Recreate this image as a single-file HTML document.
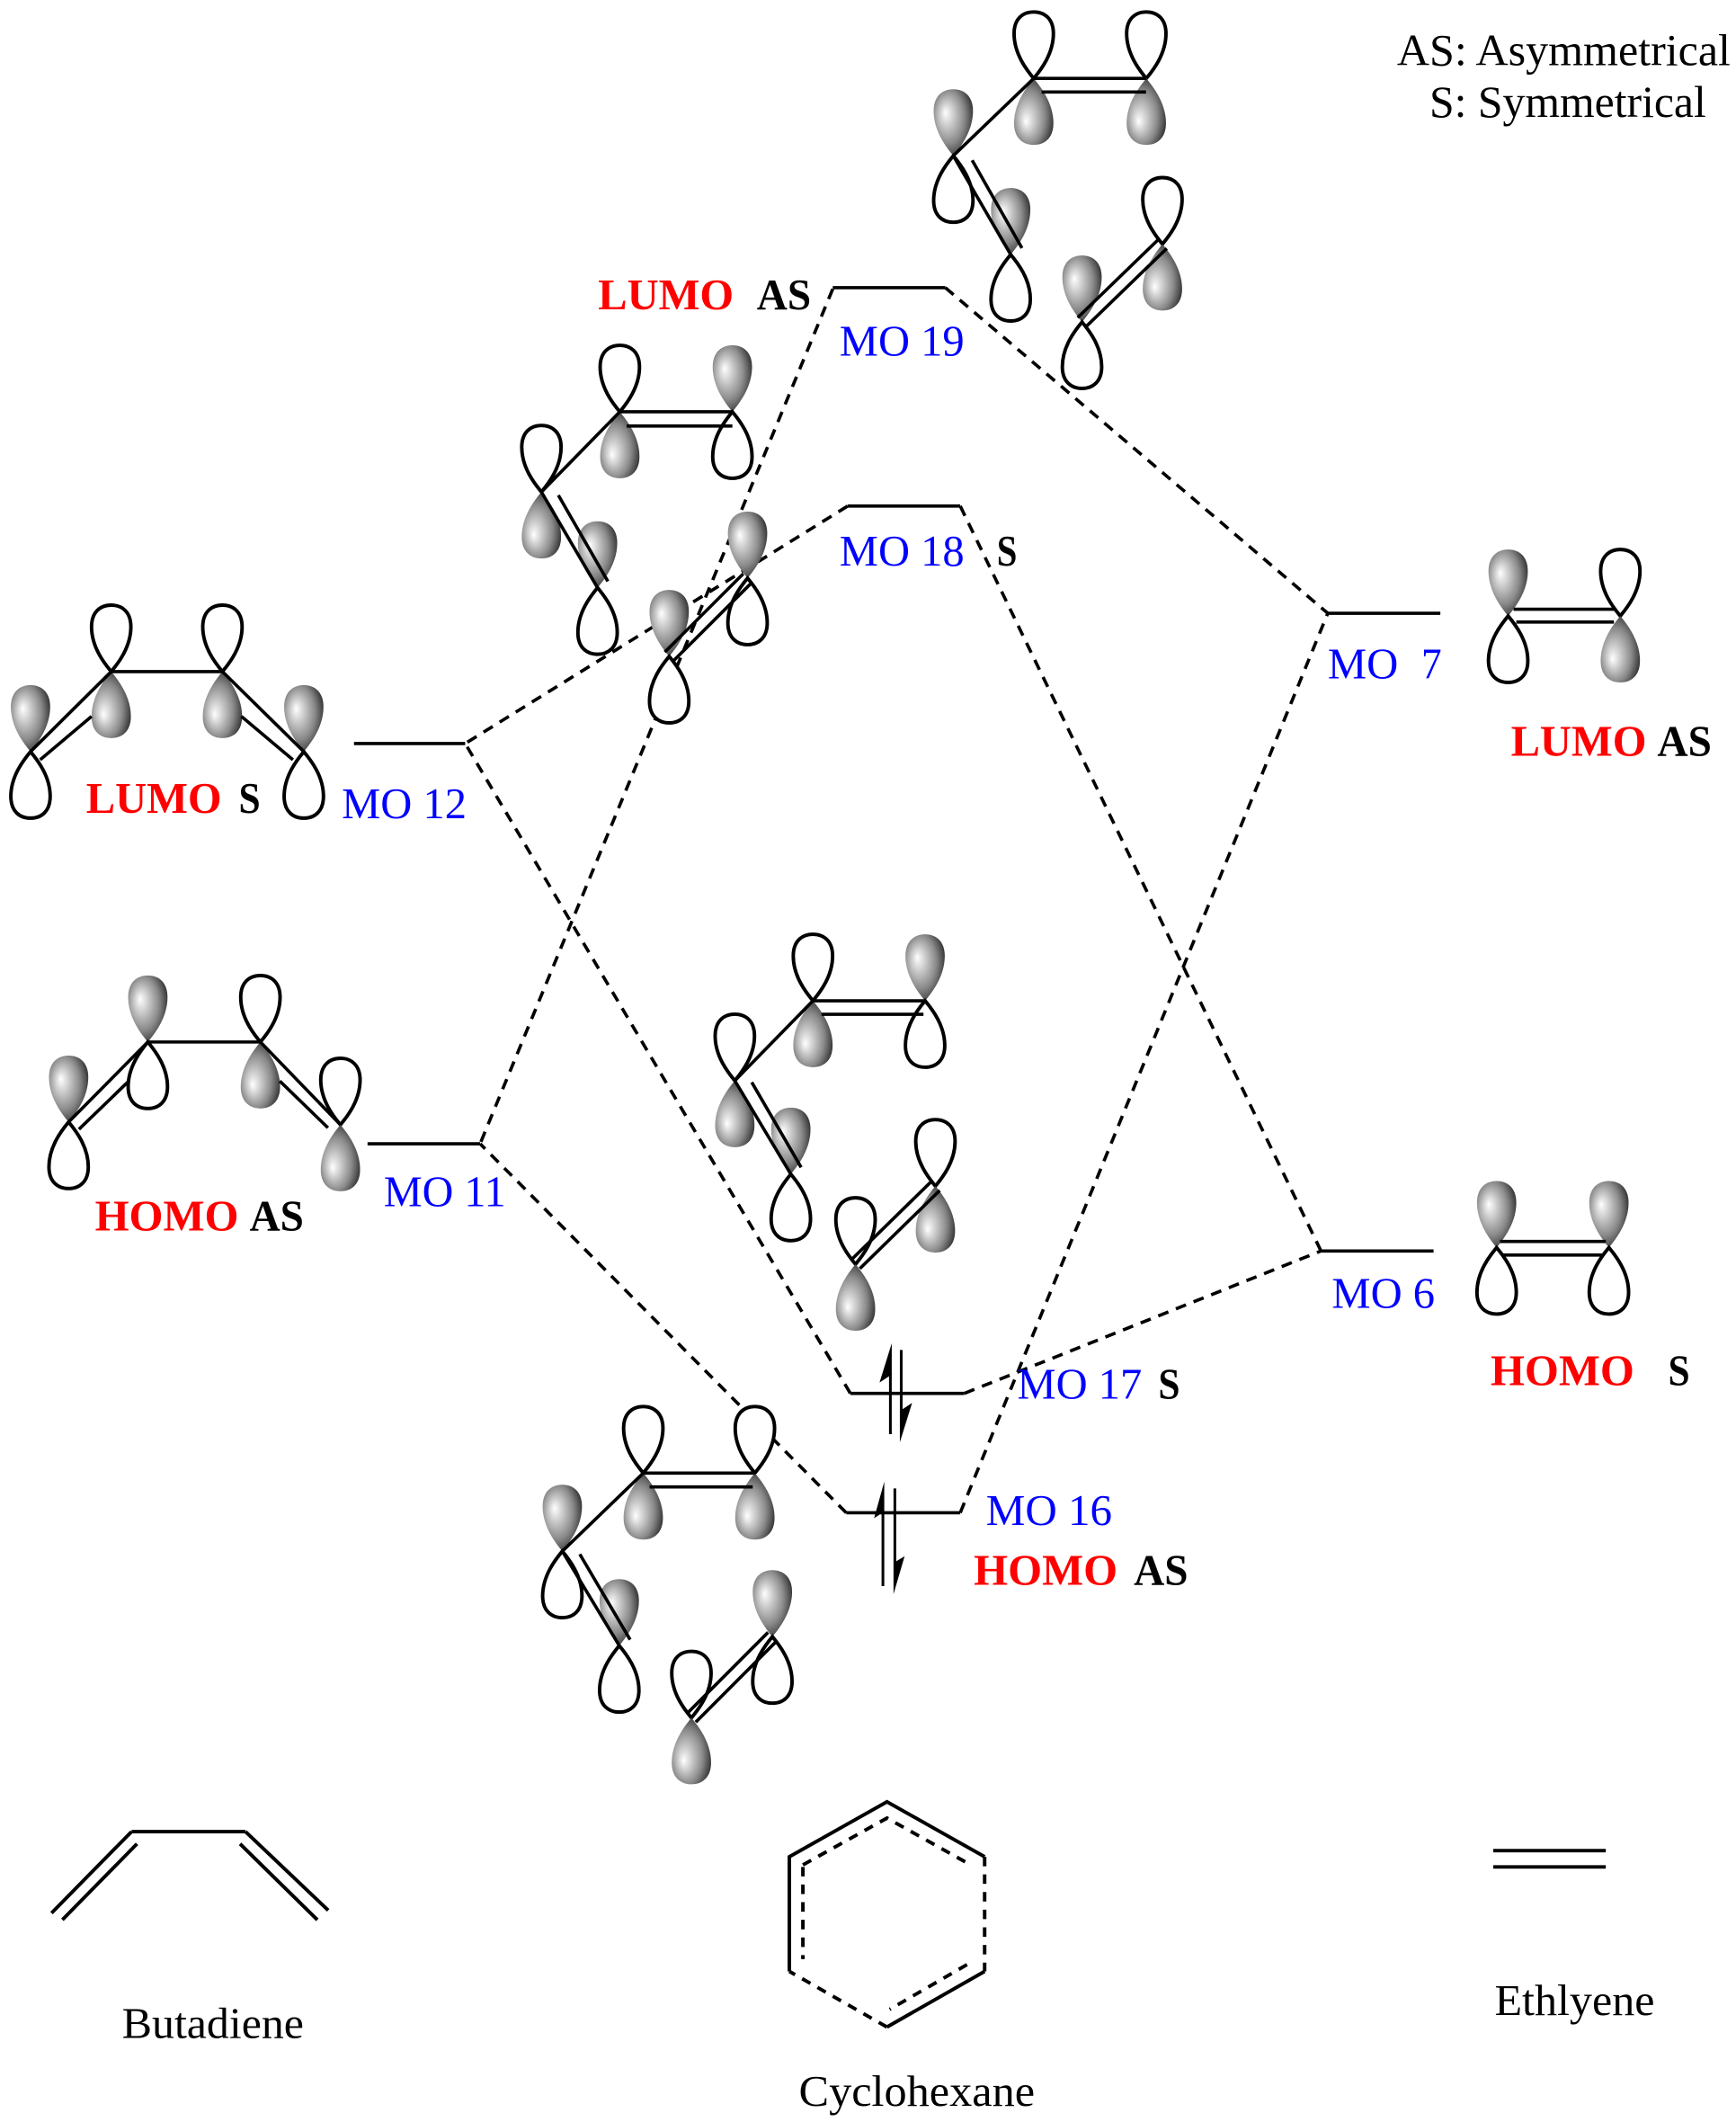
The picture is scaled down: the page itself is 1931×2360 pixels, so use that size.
<!DOCTYPE html>
<html>
<head>
<meta charset="utf-8">
<style>
html,body{margin:0;padding:0;background:#fff;}
svg{display:block;}
text{font-family:"Liberation Serif","DejaVu Serif",serif;}
.b{font-weight:bold;}
.red{fill:#ff0000;}
.blue{fill:#0000ff;}
.blk{fill:#000;}
</style>
</head>
<body>
<svg width="1931" height="2360" viewBox="0 0 1280 1564" preserveAspectRatio="none" xmlns="http://www.w3.org/2000/svg" xmlns:xlink="http://www.w3.org/1999/xlink">
<defs>
<radialGradient id="sh" cx="0.42" cy="0.45" r="0.62" fx="0.3" fy="0.35">
<stop offset="0" stop-color="#ffffff"/>
<stop offset="0.25" stop-color="#d2d2d2"/>
<stop offset="0.65" stop-color="#8a8a8a"/>
<stop offset="1" stop-color="#303030"/>
</radialGradient>
<path id="lb" d="M0,0 C-5,-6 -14.5,-18 -14.5,-33 C-14.5,-44 -8,-49 0,-49 C8,-49 14.5,-44 14.5,-33 C14.5,-18 5,-6 0,0 Z"/>
</defs>

<!-- dashed correlation lines -->
<g stroke="#000" stroke-width="2.4" stroke-dasharray="8 6" fill="none">
<line x1="614" y1="213" x2="354" y2="843"/>
<line x1="697" y1="212" x2="979" y2="452"/>
<line x1="625" y1="373" x2="343" y2="548"/>
<line x1="708" y1="373" x2="974" y2="922"/>
<line x1="627" y1="1027" x2="343" y2="548"/>
<line x1="711" y1="1027" x2="974" y2="922"/>
<line x1="624" y1="1115" x2="354" y2="843"/>
<line x1="708" y1="1115" x2="979" y2="452"/>
</g>

<!-- energy levels -->
<g stroke="#000" stroke-width="2.4" fill="none">
<line x1="614" y1="212" x2="697" y2="212"/>
<line x1="625" y1="373" x2="708" y2="373"/>
<line x1="261" y1="548" x2="343" y2="548"/>
<line x1="271" y1="843" x2="354" y2="843"/>
<line x1="979" y1="452" x2="1062" y2="452"/>
<line x1="974" y1="922" x2="1057" y2="922"/>
<line x1="627" y1="1027" x2="711" y2="1027"/>
<line x1="624" y1="1115" x2="708" y2="1115"/>
</g>

<!-- G1 butadiene LUMO -->
<g>
<use xlink:href="#lb" transform="translate(22.5,554)" fill="url(#sh)"/>
<use xlink:href="#lb" transform="translate(22.5,554) scale(1,-1)" fill="#fff" stroke="#000" stroke-width="2.6"/>
<use xlink:href="#lb" transform="translate(82,495)" fill="#fff" stroke="#000" stroke-width="2.6"/>
<use xlink:href="#lb" transform="translate(82,495) scale(1,-1)" fill="url(#sh)"/>
<use xlink:href="#lb" transform="translate(164,495)" fill="#fff" stroke="#000" stroke-width="2.6"/>
<use xlink:href="#lb" transform="translate(164,495) scale(1,-1)" fill="url(#sh)"/>
<use xlink:href="#lb" transform="translate(224,554)" fill="url(#sh)"/>
<use xlink:href="#lb" transform="translate(224,554) scale(1,-1)" fill="#fff" stroke="#000" stroke-width="2.6"/>
<g stroke="#000" stroke-width="2.4">
<line x1="22.5" y1="554" x2="82" y2="495"/>
<line x1="29.6" y1="560" x2="67.5" y2="528"/>
<line x1="82" y1="495" x2="164" y2="495"/>
<line x1="164" y1="495" x2="224" y2="554"/>
<line x1="178" y1="528" x2="216" y2="560"/>
</g>
</g>

<!-- G2 butadiene HOMO -->
<g>
<use xlink:href="#lb" transform="translate(50.6,827)" fill="url(#sh)"/>
<use xlink:href="#lb" transform="translate(50.6,827) scale(1,-1)" fill="#fff" stroke="#000" stroke-width="2.6"/>
<use xlink:href="#lb" transform="translate(109,768)" fill="url(#sh)"/>
<use xlink:href="#lb" transform="translate(109,768) scale(1,-1)" fill="#fff" stroke="#000" stroke-width="2.6"/>
<use xlink:href="#lb" transform="translate(192,768)" fill="#fff" stroke="#000" stroke-width="2.6"/>
<use xlink:href="#lb" transform="translate(192,768) scale(1,-1)" fill="url(#sh)"/>
<use xlink:href="#lb" transform="translate(251,829)" fill="#fff" stroke="#000" stroke-width="2.6"/>
<use xlink:href="#lb" transform="translate(251,829) scale(1,-1)" fill="url(#sh)"/>
<g stroke="#000" stroke-width="2.4">
<line x1="50.6" y1="827" x2="109" y2="768"/>
<line x1="58.2" y1="832.3" x2="95" y2="796.8"/>
<line x1="109" y1="768" x2="192" y2="768"/>
<line x1="192" y1="768" x2="251" y2="829"/>
<line x1="206.3" y1="796.8" x2="241.8" y2="831.2"/>
</g>
</g>

<!-- G3 -->
<g>
<use xlink:href="#lb" transform="translate(457,303.5)" fill="#fff" stroke="#000" stroke-width="2.6"/>
<use xlink:href="#lb" transform="translate(457,303.5) scale(1,-1)" fill="url(#sh)"/>
<use xlink:href="#lb" transform="translate(540,303.5)" fill="url(#sh)"/>
<use xlink:href="#lb" transform="translate(540,303.5) scale(1,-1)" fill="#fff" stroke="#000" stroke-width="2.6"/>
<use xlink:href="#lb" transform="translate(399.2,362.6)" fill="#fff" stroke="#000" stroke-width="2.6"/>
<use xlink:href="#lb" transform="translate(399.2,362.6) scale(1,-1)" fill="url(#sh)"/>
<use xlink:href="#lb" transform="translate(440.6,433.2)" fill="url(#sh)"/>
<use xlink:href="#lb" transform="translate(440.6,433.2) scale(1,-1)" fill="#fff" stroke="#000" stroke-width="2.6"/>
<use xlink:href="#lb" transform="translate(493.4,483.8)" fill="url(#sh)"/>
<use xlink:href="#lb" transform="translate(493.4,483.8) scale(1,-1)" fill="#fff" stroke="#000" stroke-width="2.6"/>
<use xlink:href="#lb" transform="translate(551.2,426.1)" fill="url(#sh)"/>
<use xlink:href="#lb" transform="translate(551.2,426.1) scale(1,-1)" fill="#fff" stroke="#000" stroke-width="2.6"/>
<g stroke="#000" stroke-width="2.4">
<line x1="457" y1="303.5" x2="540" y2="303.5"/>
<line x1="462" y1="314" x2="540" y2="314"/>
<line x1="399.2" y1="362.6" x2="457" y2="303.5"/>
<line x1="399.2" y1="362.6" x2="440.6" y2="433.2"/>
<line x1="411.7" y1="365" x2="448.2" y2="428.5"/>
<line x1="490.2" y1="480.6" x2="548" y2="422.9"/>
<line x1="496.6" y1="487" x2="554.4" y2="429.3"/>
</g>
</g>

<!-- G4 -->
<g>
<use xlink:href="#lb" transform="translate(599.4,737.6)" fill="#fff" stroke="#000" stroke-width="2.6"/>
<use xlink:href="#lb" transform="translate(599.4,737.6) scale(1,-1)" fill="url(#sh)"/>
<use xlink:href="#lb" transform="translate(682.1,737.6)" fill="url(#sh)"/>
<use xlink:href="#lb" transform="translate(682.1,737.6) scale(1,-1)" fill="#fff" stroke="#000" stroke-width="2.6"/>
<use xlink:href="#lb" transform="translate(541.8,796.5)" fill="#fff" stroke="#000" stroke-width="2.6"/>
<use xlink:href="#lb" transform="translate(541.8,796.5) scale(1,-1)" fill="url(#sh)"/>
<use xlink:href="#lb" transform="translate(583.1,865.4)" fill="url(#sh)"/>
<use xlink:href="#lb" transform="translate(583.1,865.4) scale(1,-1)" fill="#fff" stroke="#000" stroke-width="2.6"/>
<use xlink:href="#lb" transform="translate(630.8,931.8)" fill="#fff" stroke="#000" stroke-width="2.6"/>
<use xlink:href="#lb" transform="translate(630.8,931.8) scale(1,-1)" fill="url(#sh)"/>
<use xlink:href="#lb" transform="translate(689.7,874.2)" fill="#fff" stroke="#000" stroke-width="2.6"/>
<use xlink:href="#lb" transform="translate(689.7,874.2) scale(1,-1)" fill="url(#sh)"/>
<g stroke="#000" stroke-width="2.4">
<line x1="599.4" y1="737.6" x2="682.1" y2="737.6"/>
<line x1="605.7" y1="747.6" x2="680.9" y2="747.6"/>
<line x1="541.8" y1="796.5" x2="599.4" y2="737.6"/>
<line x1="541.8" y1="796.5" x2="583.1" y2="865.4"/>
<line x1="554.3" y1="797.7" x2="590.7" y2="860.4"/>
<line x1="627.6" y1="928.6" x2="686.5" y2="871"/>
<line x1="634" y1="935" x2="692.9" y2="877.4"/>
</g>
</g>

<!-- G5 -->
<g>
<use xlink:href="#lb" transform="translate(474.3,1085.7)" fill="#fff" stroke="#000" stroke-width="2.6"/>
<use xlink:href="#lb" transform="translate(474.3,1085.7) scale(1,-1)" fill="url(#sh)"/>
<use xlink:href="#lb" transform="translate(556.6,1085.7)" fill="#fff" stroke="#000" stroke-width="2.6"/>
<use xlink:href="#lb" transform="translate(556.6,1085.7) scale(1,-1)" fill="url(#sh)"/>
<use xlink:href="#lb" transform="translate(414.6,1143.3)" fill="url(#sh)"/>
<use xlink:href="#lb" transform="translate(414.6,1143.3) scale(1,-1)" fill="#fff" stroke="#000" stroke-width="2.6"/>
<use xlink:href="#lb" transform="translate(456.6,1212.9)" fill="url(#sh)"/>
<use xlink:href="#lb" transform="translate(456.6,1212.9) scale(1,-1)" fill="#fff" stroke="#000" stroke-width="2.6"/>
<use xlink:href="#lb" transform="translate(509.8,1266.1)" fill="#fff" stroke="#000" stroke-width="2.6"/>
<use xlink:href="#lb" transform="translate(509.8,1266.1) scale(1,-1)" fill="url(#sh)"/>
<use xlink:href="#lb" transform="translate(569.5,1206.3)" fill="url(#sh)"/>
<use xlink:href="#lb" transform="translate(569.5,1206.3) scale(1,-1)" fill="#fff" stroke="#000" stroke-width="2.6"/>
<g stroke="#000" stroke-width="2.4">
<line x1="474.3" y1="1085.7" x2="556.6" y2="1085.7"/>
<line x1="479" y1="1095.9" x2="555" y2="1095.9"/>
<line x1="414.6" y1="1143.3" x2="474.3" y2="1085.7"/>
<line x1="414.6" y1="1143.3" x2="456.6" y2="1212.9"/>
<line x1="427.5" y1="1145.5" x2="464.6" y2="1208.5"/>
<line x1="506.6" y1="1262.9" x2="566.3" y2="1203.1"/>
<line x1="513" y1="1269.3" x2="572.7" y2="1209.5"/>
</g>
</g>

<!-- G6 -->
<g>
<use xlink:href="#lb" transform="translate(762.2,57.8)" fill="#fff" stroke="#000" stroke-width="2.6"/>
<use xlink:href="#lb" transform="translate(762.2,57.8) scale(1,-1)" fill="url(#sh)"/>
<use xlink:href="#lb" transform="translate(845.2,57.8)" fill="#fff" stroke="#000" stroke-width="2.6"/>
<use xlink:href="#lb" transform="translate(845.2,57.8) scale(1,-1)" fill="url(#sh)"/>
<use xlink:href="#lb" transform="translate(702.9,114.8)" fill="url(#sh)"/>
<use xlink:href="#lb" transform="translate(702.9,114.8) scale(1,-1)" fill="#fff" stroke="#000" stroke-width="2.6"/>
<use xlink:href="#lb" transform="translate(745.2,187.6)" fill="url(#sh)"/>
<use xlink:href="#lb" transform="translate(745.2,187.6) scale(1,-1)" fill="#fff" stroke="#000" stroke-width="2.6"/>
<use xlink:href="#lb" transform="translate(797.8,237.3)" fill="url(#sh)"/>
<use xlink:href="#lb" transform="translate(797.8,237.3) scale(1,-1)" fill="#fff" stroke="#000" stroke-width="2.6"/>
<use xlink:href="#lb" transform="translate(857.1,179.9)" fill="#fff" stroke="#000" stroke-width="2.6"/>
<use xlink:href="#lb" transform="translate(857.1,179.9) scale(1,-1)" fill="url(#sh)"/>
<g stroke="#000" stroke-width="2.4">
<line x1="762.2" y1="57.8" x2="845.2" y2="57.8"/>
<line x1="768" y1="67.8" x2="845" y2="67.8"/>
<line x1="702.9" y1="114.8" x2="762.2" y2="57.8"/>
<line x1="702.9" y1="114.8" x2="745.2" y2="187.6"/>
<line x1="716.8" y1="118.1" x2="753.5" y2="182.8"/>
<line x1="794.6" y1="234.1" x2="853.9" y2="176.7"/>
<line x1="801" y1="240.5" x2="860.3" y2="183.1"/>
</g>
</g>

<!-- Ethylene LUMO -->
<g>
<use xlink:href="#lb" transform="translate(1112,454)" fill="url(#sh)"/>
<use xlink:href="#lb" transform="translate(1112,454) scale(1,-1)" fill="#fff" stroke="#000" stroke-width="2.6"/>
<use xlink:href="#lb" transform="translate(1194.7,454)" fill="#fff" stroke="#000" stroke-width="2.6"/>
<use xlink:href="#lb" transform="translate(1194.7,454) scale(1,-1)" fill="url(#sh)"/>
<g stroke="#000" stroke-width="2.4">
<line x1="1116" y1="449" x2="1191" y2="449"/>
<line x1="1118" y1="458.5" x2="1190" y2="458.5"/>
</g>
</g>

<!-- Ethylene HOMO -->
<g>
<use xlink:href="#lb" transform="translate(1103.5,919.5)" fill="url(#sh)"/>
<use xlink:href="#lb" transform="translate(1103.5,919.5) scale(1,-1)" fill="#fff" stroke="#000" stroke-width="2.6"/>
<use xlink:href="#lb" transform="translate(1186.3,919.5)" fill="url(#sh)"/>
<use xlink:href="#lb" transform="translate(1186.3,919.5) scale(1,-1)" fill="#fff" stroke="#000" stroke-width="2.6"/>
<g stroke="#000" stroke-width="2.4">
<line x1="1106" y1="915" x2="1184" y2="915"/>
<line x1="1108" y1="925" x2="1182" y2="925"/>
</g>
</g>

<!-- electrons -->
<g stroke="#000" stroke-width="2">
<line x1="656.5" y1="1012" x2="656.5" y2="1057"/>
<line x1="664.5" y1="995" x2="664.5" y2="1041"/>
<line x1="651" y1="1113" x2="651" y2="1169"/>
<line x1="659.8" y1="1097" x2="659.8" y2="1152"/>
</g>
<g fill="#000">
<polygon points="657.5,990 648.5,1019 657.5,1013"/>
<polygon points="663.5,1063 672.5,1034 663.5,1040"/>
<polygon points="652,1092 644.5,1119 652,1114"/>
<polygon points="658.8,1175 667,1147 658.8,1152"/>
</g>

<!-- bottom structures -->
<g stroke="#000" stroke-width="2.6" fill="none">
<line x1="97" y1="1350" x2="181" y2="1350"/>
<line x1="97" y1="1350" x2="38" y2="1410"/>
<line x1="101" y1="1359" x2="46" y2="1415"/>
<line x1="181" y1="1350" x2="242" y2="1408"/>
<line x1="177" y1="1359" x2="234" y2="1415"/>
<line x1="1101" y1="1364" x2="1184" y2="1364"/>
<line x1="1101" y1="1376" x2="1184" y2="1376"/>
<polyline points="582,1453 582,1368.5 654,1328 726,1368.5"/>
<line x1="726" y1="1453" x2="654" y2="1494"/>
</g>
<g stroke="#000" stroke-width="2.6" fill="none" stroke-dasharray="7 6">
<line x1="726" y1="1368.5" x2="726" y2="1453"/>
<line x1="654" y1="1494" x2="582" y2="1453"/>
<line x1="592" y1="1376" x2="592" y2="1444"/>
<polyline points="592,1374.5 654,1340 713,1373"/>
<line x1="713" y1="1448" x2="656" y2="1481"/>
</g>

<!-- labels -->
<text x="1030" y="48" font-size="33" textLength="246" lengthAdjust="spacingAndGlyphs" class="blk">AS: Asymmetrical</text>
<text x="1054" y="86" font-size="33" textLength="204" lengthAdjust="spacingAndGlyphs" class="blk">S: Symmetrical</text>

<text x="441" y="228" font-size="32" textLength="100" lengthAdjust="spacingAndGlyphs" class="b red">LUMO</text>
<text x="558" y="228" font-size="32" textLength="40" lengthAdjust="spacingAndGlyphs" class="b blk">AS</text>
<text x="619" y="262" font-size="32" textLength="92" lengthAdjust="spacingAndGlyphs" class="blue">MO 19</text>
<text x="619" y="417" font-size="32" textLength="92" lengthAdjust="spacingAndGlyphs" class="blue">MO 18</text>
<text x="735" y="417" font-size="32" textLength="15" lengthAdjust="spacingAndGlyphs" class="b blk">S</text>

<text x="63.5" y="599" font-size="32" textLength="100" lengthAdjust="spacingAndGlyphs" class="b red">LUMO</text>
<text x="176" y="599" font-size="32" textLength="16" lengthAdjust="spacingAndGlyphs" class="b blk">S</text>
<text x="252" y="603" font-size="32" textLength="92" lengthAdjust="spacingAndGlyphs" class="blue">MO 12</text>

<text x="979" y="500" font-size="32" textLength="52" lengthAdjust="spacingAndGlyphs" class="blue">MO</text>
<text x="1048" y="500" font-size="32" textLength="15" lengthAdjust="spacingAndGlyphs" class="blue">7</text>
<text x="1114" y="557" font-size="32" textLength="100" lengthAdjust="spacingAndGlyphs" class="b red">LUMO</text>
<text x="1222" y="557" font-size="32" textLength="40" lengthAdjust="spacingAndGlyphs" class="b blk">AS</text>

<text x="70" y="907" font-size="32" textLength="106" lengthAdjust="spacingAndGlyphs" class="b red">HOMO</text>
<text x="184" y="907" font-size="32" textLength="40" lengthAdjust="spacingAndGlyphs" class="b blk">AS</text>
<text x="283" y="889" font-size="32" textLength="90" lengthAdjust="spacingAndGlyphs" class="blue">MO 11</text>

<text x="982" y="964" font-size="32" textLength="76" lengthAdjust="spacingAndGlyphs" class="blue">MO 6</text>
<text x="1099" y="1021" font-size="32" textLength="106" lengthAdjust="spacingAndGlyphs" class="b red">HOMO</text>
<text x="1230" y="1021" font-size="32" textLength="16" lengthAdjust="spacingAndGlyphs" class="b blk">S</text>

<text x="750" y="1031" font-size="32" textLength="92" lengthAdjust="spacingAndGlyphs" class="blue">MO 17</text>
<text x="854" y="1031" font-size="32" textLength="16" lengthAdjust="spacingAndGlyphs" class="b blk">S</text>
<text x="727" y="1124" font-size="32" textLength="93" lengthAdjust="spacingAndGlyphs" class="blue">MO 16</text>
<text x="718" y="1168" font-size="32" textLength="106" lengthAdjust="spacingAndGlyphs" class="b red">HOMO</text>
<text x="836" y="1168" font-size="32" textLength="40" lengthAdjust="spacingAndGlyphs" class="b blk">AS</text>

<text x="90" y="1502" font-size="32" textLength="134" lengthAdjust="spacingAndGlyphs" class="blk">Butadiene</text>
<text x="589" y="1552" font-size="32" textLength="174" lengthAdjust="spacingAndGlyphs" class="blk">Cyclohexane</text>
<text x="1102" y="1485" font-size="32" textLength="118" lengthAdjust="spacingAndGlyphs" class="blk">Ethlyene</text>
</svg>
</body>
</html>
